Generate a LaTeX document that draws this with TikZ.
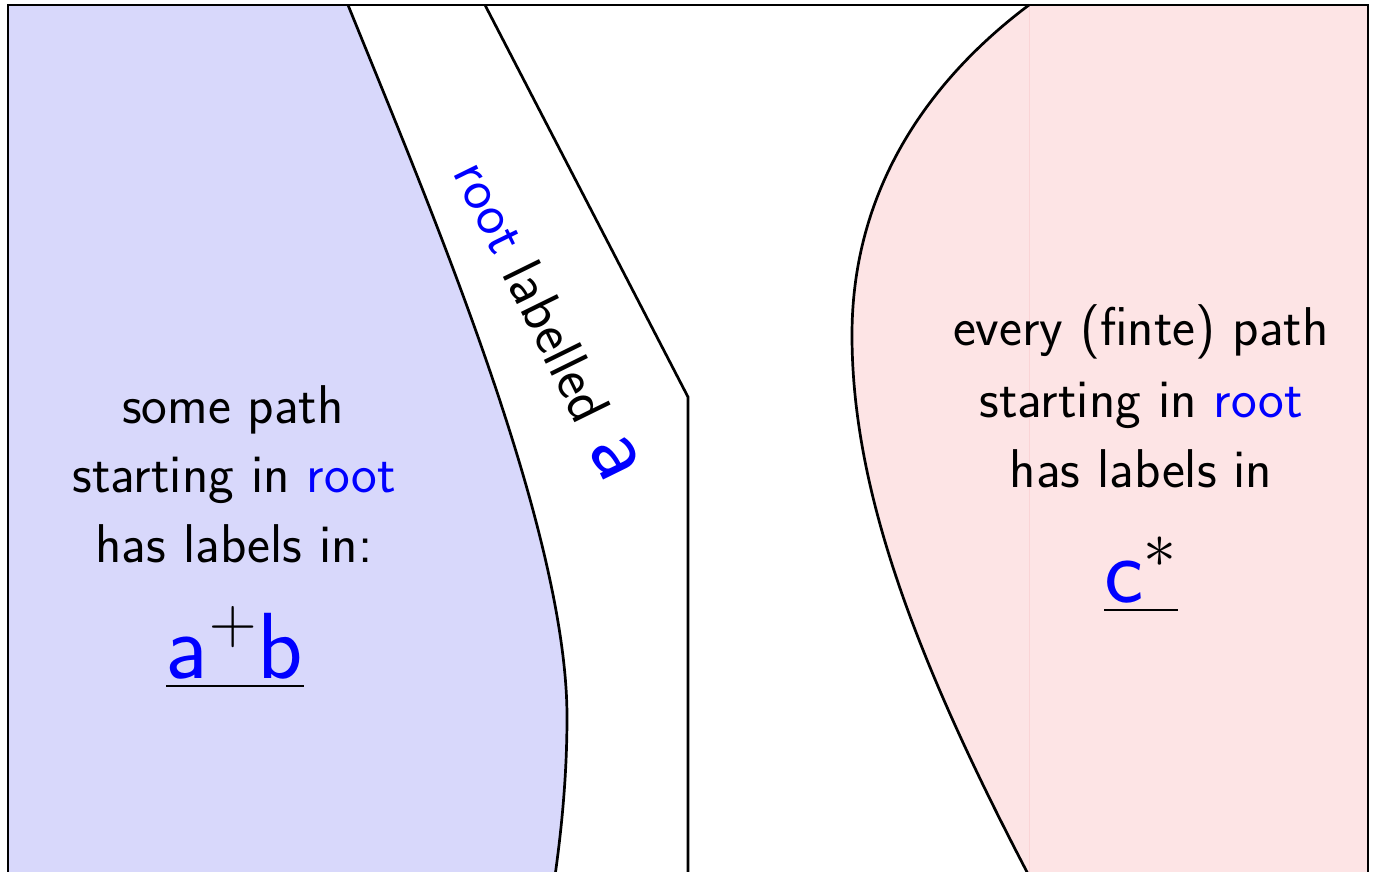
\documentclass[tikz,border=0pt]{standalone}
\usepackage{fix-cm}
\usepackage{xcolor}
\definecolor{bluefill}{RGB}{216,216,251}
\definecolor{redfill}{RGB}{253,228,229}
\definecolor{redseam}{RGB}{250,212,214}
\begin{document}
\begin{tikzpicture}[x=0.5pt,y=-0.5pt,
  txt/.style={font=\fontsize{27.3}{34}\selectfont\sffamily, inner sep=0pt, anchor=base},
  rottxt/.style={font=\fontsize{29}{34}\selectfont\sffamily, inner sep=0pt, anchor=base west, rotate=-63.8},
  bigtxt/.style={font=\fontsize{47}{47}\selectfont\sffamily, inner sep=0pt, anchor=base},
  border/.style={line width=1.35pt},
  uline/.style={line width=1.2pt}]
\useasboundingbox (0,0) rectangle (1373,872);
\clip (0,0) rectangle (1373,872);
% blue region
\fill[bluefill] (8,5) -- (348,5)
  .. controls (427,200) and (567,527) .. (567,717)
  .. controls (567,800) and (556,870) .. (550,910)
  -- (8,910) -- cycle;
% red region
\fill[redfill] (1368,5) -- (1029,5)
  .. controls (933,77) and (852,185) .. (852,335)
  .. controls (852,485) and (911,650) .. (1027,872)
  -- (1042,910) -- (1368,910) -- cycle;
\draw[redseam, line width=0.4pt] (1029,5) -- (1029,910);
% boundaries
\draw[border] (348,5)
  .. controls (427,200) and (567,527) .. (567,717)
  .. controls (567,800) and (556,870) .. (550,910);
\draw[border] (1029,5)
  .. controls (933,77) and (852,185) .. (852,335)
  .. controls (852,485) and (911,650) .. (1027,872) -- (1042,910);
\coordinate (s1) at (485,5);
\coordinate (s2) at (688,397);
\coordinate (s3) at (688,910);
\draw[border] (s1) -- (s2) -- (s3);
% frame
\draw[border] (8,920) -- (8,5) -- (1368,5) -- (1368,920);
% left text
\node[txt] (l1) at (233,423) {some path};
\node[txt] (l2) at (234,492) {starting in \textcolor{blue}{root}};
\node[txt] (l3) at (234,562) {has labels in:};
\node[bigtxt] (l4) at (235,678) {$\textcolor{blue}{\mathsf{a}}^{+}\textcolor{blue}{\mathsf{b}}$};
\draw[uline] ([yshift=-4pt]l4.base west) -- ([yshift=-4pt]l4.base east);
% right text
\node[txt] (r1) at (1141,345) {every (finte) path};
\node[txt] (r2) at (1141,417) {starting in \textcolor{blue}{root}};
\node[txt] (r3) at (1141,487) {has labels in};
\node[bigtxt] (r4) at (1141,602) {$\textcolor{blue}{\mathsf{c}}^{*}$};
\draw[uline] ([yshift=-4pt]r4.base west) -- ([yshift=-4pt]r4.base east);
% rotated label
\node[rottxt] (lab) at (452,172) {\textcolor{blue}{root} labelled\hspace{0.4em}\textcolor{blue}{\fontsize{47}{47}\selectfont a}};
\end{tikzpicture}
\end{document}
